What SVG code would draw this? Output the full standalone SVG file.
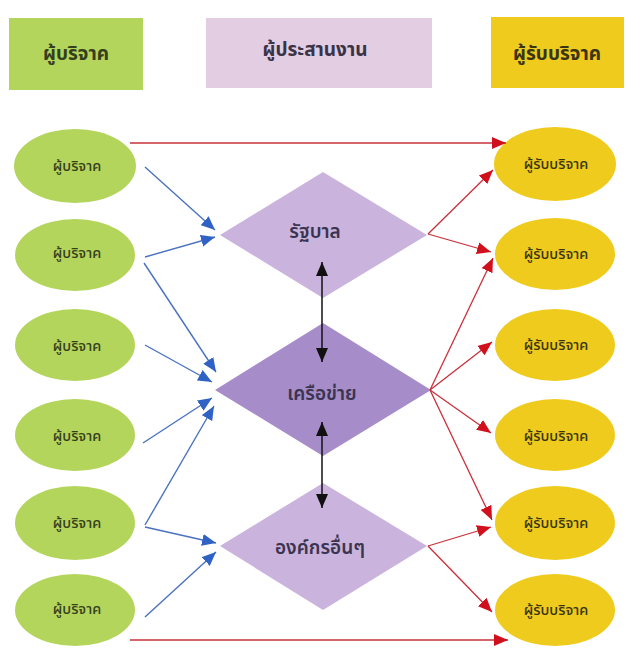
<svg xmlns="http://www.w3.org/2000/svg" width="627" height="648" viewBox="0 0 627 648">
<style>
text{font-family:"Noto Sans Thai","Noto Sans Thai UI","Loma","Garuda","Noto Sans","DejaVu Sans",sans-serif;text-anchor:middle;dominant-baseline:central}
.hd{font-size:19px;font-weight:bold}
.el{font-size:14.5px;font-weight:500}
.dm{font-size:19px;font-weight:600;fill:#3b3450}
.gr{fill:#b4d55c}
.yl{fill:#efcb1e}
.lp{fill:#cab4dd}
.dp{fill:#a68dc9}
.gt{fill:#34401c}
.yt{fill:#3a3410}
.blue{stroke:#4a72c0;stroke-width:1.4;fill:none;marker-end:url(#ab)}
.red{stroke:#c8303a;stroke-width:1.3;fill:none;marker-end:url(#ar)}
.blk{stroke:#111;stroke-width:1.5;fill:none;marker-start:url(#ak);marker-end:url(#ak)}
</style>
<defs>
<marker id="ab" markerUnits="userSpaceOnUse" viewBox="0 0 14 12" refX="14" refY="6" markerWidth="14" markerHeight="12" orient="auto"><path d="M0,0L14,6L0,12z" fill="#2f62c4"/></marker>
<marker id="ar" markerUnits="userSpaceOnUse" viewBox="0 0 14 12" refX="14" refY="6" markerWidth="14" markerHeight="12" orient="auto"><path d="M0,0L14,6L0,12z" fill="#d0101c"/></marker>
<marker id="ak" markerUnits="userSpaceOnUse" viewBox="0 0 14 12" refX="14" refY="6" markerWidth="14" markerHeight="12" orient="auto-start-reverse"><path d="M0,0L14,6L0,12z" fill="#111"/></marker>
</defs>
<rect width="627" height="648" fill="#fff"/>

<g id="header-donor"><rect x="9" y="18" width="134" height="72" class="gr"/><text x="76" y="54" class="hd gt">ผู้บริจาค</text></g>
<g id="header-coordinator"><rect x="206" y="18" width="226" height="70" fill="#e2cde3"/><text x="315" y="50" class="hd" fill="#3a3346">ผู้ประสานงาน</text></g>
<g id="header-recipient"><rect x="491" y="17" width="133" height="71" class="yl"/><text x="557" y="54" class="hd yt">ผู้รับบริจาค</text></g>

<g id="donor-1"><ellipse cx="75" cy="166" rx="61" ry="37" class="gr"/><text x="77" y="167" class="el gt">ผู้บริจาค</text></g>
<g id="donor-2"><ellipse cx="75" cy="255" rx="60" ry="36" class="gr"/><text x="77" y="254" class="el gt">ผู้บริจาค</text></g>
<g id="donor-3"><ellipse cx="75" cy="345" rx="60" ry="36" class="gr"/><text x="77" y="347" class="el gt">ผู้บริจาค</text></g>
<g id="donor-4"><ellipse cx="75" cy="435" rx="60" ry="36" class="gr"/><text x="77" y="437" class="el gt">ผู้บริจาค</text></g>
<g id="donor-5"><ellipse cx="75" cy="523" rx="60" ry="37" class="gr"/><text x="77" y="524" class="el gt">ผู้บริจาค</text></g>
<g id="donor-6"><ellipse cx="75" cy="610" rx="60" ry="36" class="gr"/><text x="77" y="610" class="el gt">ผู้บริจาค</text></g>

<g id="gov"><path d="M220,235L323,172L427,235L323,298z" class="lp"/><text x="315" y="232" class="dm">รัฐบาล</text></g>
<g id="network"><path d="M215,390L323,323L431,390L323,456z" class="dp"/><text x="322" y="394" class="dm">เครือข่าย</text></g>
<g id="other-org"><path d="M220,546L323,483L427,546L323,610z" class="lp"/><text x="320" y="548" class="dm">องค์กรอื่นๆ</text></g>

<g id="recipient-1"><ellipse cx="555" cy="164" rx="61" ry="37" class="yl"/><text x="556" y="165" class="el yt">ผู้รับบริจาค</text></g>
<g id="recipient-2"><ellipse cx="555" cy="254" rx="60" ry="36" class="yl"/><text x="556" y="255" class="el yt">ผู้รับบริจาค</text></g>
<g id="recipient-3"><ellipse cx="555" cy="345" rx="60" ry="36" class="yl"/><text x="556" y="346" class="el yt">ผู้รับบริจาค</text></g>
<g id="recipient-4"><ellipse cx="555" cy="435" rx="60" ry="36" class="yl"/><text x="556" y="437" class="el yt">ผู้รับบริจาค</text></g>
<g id="recipient-5"><ellipse cx="555" cy="523" rx="60" ry="37" class="yl"/><text x="556" y="524" class="el yt">ผู้รับบริจาค</text></g>
<g id="recipient-6"><ellipse cx="555" cy="610" rx="60" ry="36" class="yl"/><text x="556" y="611" class="el yt">ผู้รับบริจาค</text></g>

<g id="connectors">
<path class="red" d="M130,143H506"/>
<path class="red" d="M130,640H508"/>
<path class="blue" d="M145,167L215,230"/>
<path class="blue" d="M145,257L215,237"/>
<path class="blue" d="M144,263L216,372"/>
<path class="blue" d="M145,345L212,382"/>
<path class="blue" d="M143,443L212,398"/>
<path class="blue" d="M145,525L214,406"/>
<path class="blue" d="M145,527L216,543"/>
<path class="blue" d="M145,617L216,552"/>
<path class="red" d="M428,234L493,170"/>
<path class="red" d="M428,234L491,252"/>
<path class="red" d="M430,390L493,258"/>
<path class="red" d="M430,390L492,342"/>
<path class="red" d="M430,390L491,433"/>
<path class="red" d="M430,390L492,520"/>
<path class="red" d="M428,546L491,527"/>
<path class="red" d="M428,546L492,612"/>
<path class="blk" d="M322,262V362"/>
<path class="blk" d="M322,422V508"/>
</g>
</svg>
